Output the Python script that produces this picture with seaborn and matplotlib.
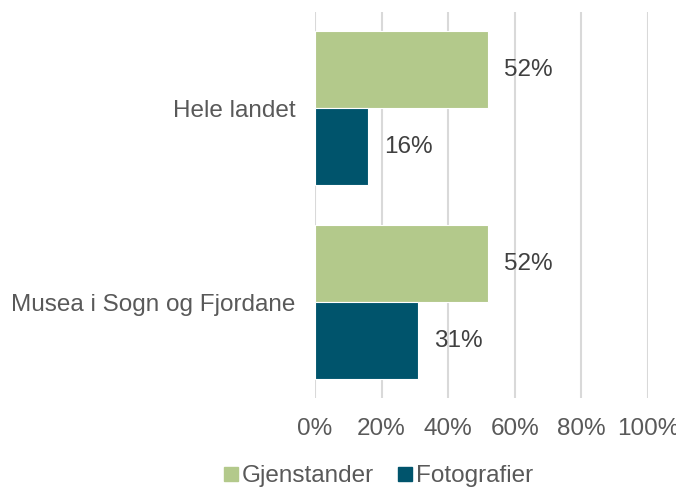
import pandas as pd
import seaborn as sns
import matplotlib.pyplot as plt
from matplotlib.lines import Line2D

# Chart data
categories = ["Hele landet", "Musea i Sogn og Fjordane"]
series = ["Gjenstander", "Fotografier"]
gjenstander = [52, 52]
fotografier = [16, 31]
x_ticks = [0, 20, 40, 60, 80, 100]
tick_labels = [f"{t}%" for t in x_ticks]

colors = ["#b3c98b", "#00546c"]
text_gray = "#595959"

df = pd.DataFrame({
    "kategori": categories * 2,
    "serie": [series[0]] * len(categories) + [series[1]] * len(categories),
    "verdi": gjenstander + fotografier,
})

sns.set_style("white")
plt.rcParams['font.family'] = ['Liberation Sans', 'DejaVu Sans']
fs = 17.5

fig, ax = plt.subplots(figsize=(6.76, 4.88), dpi=100)
fig.subplots_adjust(left=0.466, right=0.9586, top=0.975, bottom=0.184)

sns.barplot(data=df, x="verdi", y="kategori", hue="serie", order=categories,
            hue_order=series, palette=colors, saturation=1, orient="h",
            width=0.795, edgecolor="white", linewidth=0.8, legend=False, ax=ax)

for cont in ax.containers:
    ax.bar_label(cont, fmt="{:.0f}%", padding=11.5, fontsize=fs, color="#404040")

ax.set_xlim(0, 100)
ax.set_ylim(1.495, -0.495)
ax.set_xticks(x_ticks)
ax.set_xticklabels(tick_labels)
ax.set_xlabel("")
ax.set_ylabel("")
ax.xaxis.grid(True, color="#d9d9d9", linewidth=1.5)
ax.set_axisbelow(True)
sns.despine(ax=ax, left=True, bottom=True)
ax.tick_params(axis="x", length=0, pad=14, labelsize=fs, labelcolor=text_gray)
ax.tick_params(axis="y", length=0, pad=14, labelsize=fs, labelcolor=text_gray)

handles = [Line2D([], [], marker="s", linestyle="", markersize=9.5,
                  markerfacecolor=c, markeredgecolor=c) for c in colors]
fig.legend(handles, series, loc="center", bbox_to_anchor=(0.558, 0.024),
           ncol=2, frameon=False, fontsize=fs, labelcolor=text_gray,
           handletextpad=0.05, columnspacing=0.9, handlelength=0.8)

fig.savefig("out.png", dpi=100)
